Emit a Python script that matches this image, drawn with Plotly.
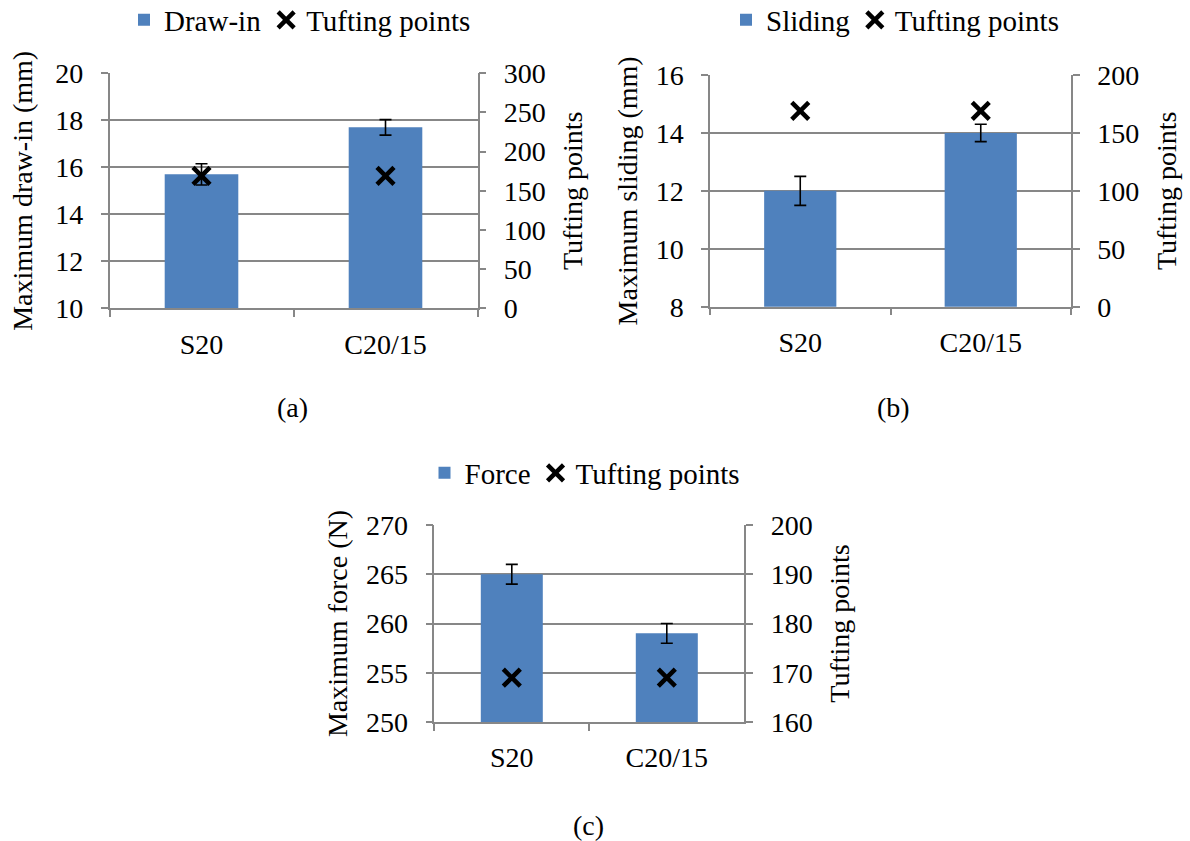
import plotly.graph_objects as go

categories = ["S20", "C20/15"]
drawin = [15.7, 17.7]
drawin_err = [0.45, 0.33]
sliding = [12.0, 14.0]
sliding_err = [0.5, 0.3]
force = [265, 259]
force_err = [1, 1]
tufting = [169, 169]

W, H = 1190, 841
BLUE = "#4F81BD"
GRID = "#878787"
FONT = "Liberation Serif"
FS = 28

def px_x(a, b):
    return [a / W, b / W]

def px_y(top, bottom):
    return [1 - bottom / H, 1 - top / H]

fig = go.Figure()

panels = [
    dict(x="x", y="y", y2="y2", vals=drawin, err=drawin_err, name="Draw-in", legend="legend",
         xdom=px_x(109.5, 477.5), ydom=px_y(73.3, 308.3), lrange=[10, 20], ldt=2, rrange=[0, 300], rdt=50,
         ltitle="Maximum draw-in (mm)", lstand=14),
    dict(x="x2", y="y3", y2="y4", vals=sliding, err=sliding_err, name="Sliding", legend="legend2",
         xdom=px_x(710, 1071), ydom=px_y(75, 306.7), lrange=[8, 16], ldt=2, rrange=[0, 200], rdt=50,
         ltitle="Maximum sliding (mm)", lstand=10),
    dict(x="x3", y="y5", y2="y6", vals=force, err=force_err, name="Force", legend="legend3",
         xdom=px_x(434.3, 744.3), ydom=px_y(525, 722), lrange=[250, 270], ldt=5, rrange=[160, 200], rdt=10,
         ltitle="Maximum force (N)", lstand=10),
]

for i, p in enumerate(panels):
    fig.add_trace(go.Bar(
        x=categories, y=p["vals"], name=p["name"], xaxis=p["x"], yaxis=p["y"],
        marker=dict(color=BLUE, line=dict(width=0)),
        error_y=dict(type="data", array=p["err"], visible=True, color="black", thickness=1.6, width=6),
        legend=p["legend"],
    ))
    fig.add_trace(go.Scatter(
        x=categories, y=tufting, name="Tufting points", mode="markers", xaxis=p["x"], yaxis=p["y2"],
        marker=dict(symbol="x-thin", size=17, color="black", line=dict(width=4.5, color="black")),
        legend=p["legend"],
    ))

    xn = "xaxis" if i == 0 else f"xaxis{i+1}"
    yl = "yaxis" if p["y"] == "y" else "yaxis" + p["y"][1:]
    yr = "yaxis" + p["y2"][1:]
    fig.layout[xn] = dict(
        domain=p["xdom"], anchor=p["y"], type="category", showline=True, linecolor=GRID, linewidth=1.5,
        ticks="outside", tickson="boundaries", ticklen=7, tickcolor=GRID, tickwidth=1.5,
        showgrid=False, tickfont=dict(family=FONT, size=FS, color="black"), automargin=False,
        ticklabelstandoff=10,
    )
    fig.layout[yl] = dict(
        domain=p["ydom"], anchor=p["x"], range=p["lrange"], dtick=p["ldt"], tick0=p["lrange"][0],
        showline=True, linecolor=GRID, linewidth=1.5, ticks="outside", ticklen=7, tickcolor=GRID, tickwidth=1.5,
        showgrid=True, gridcolor=GRID, gridwidth=1.5, zeroline=False,
        tickfont=dict(family=FONT, size=FS, color="black"), automargin=False, ticklabelstandoff=12,
        title=dict(text=p["ltitle"], font=dict(family=FONT, size=FS, color="black"), standoff=p["lstand"]),
    )
    fig.layout[yr] = dict(
        overlaying=p["y"], anchor=p["x"], side="right", range=p["rrange"], dtick=p["rdt"], tick0=p["rrange"][0],
        showline=True, linecolor=GRID, linewidth=1.5, ticks="outside", ticklen=7, tickcolor=GRID, tickwidth=1.5,
        showgrid=False, zeroline=False,
        tickfont=dict(family=FONT, size=FS, color="black"), automargin=False, ticklabelstandoff=12,
        title=dict(text="Tufting points", font=dict(family=FONT, size=FS, color="black"), standoff=18),
    )

legend_pos = {"legend": (300, 20), "legend2": (895, 20), "legend3": (585, 473)}
for k, (cx, cy) in legend_pos.items():
    fig.layout[k] = dict(
        orientation="h", x=cx / W, y=1 - cy / H, xanchor="center", yanchor="middle",
        font=dict(family=FONT, size=29, color="black"), bgcolor="rgba(0,0,0,0)", itemwidth=30,
        traceorder="normal",
    )

for text, cx, cy in [("(a)", 292, 408), ("(b)", 893, 408), ("(c)", 588, 825)]:
    fig.add_annotation(text=text, x=cx / W, y=1 - cy / H, xref="paper", yref="paper",
                       showarrow=False, xanchor="center", yanchor="middle",
                       font=dict(family=FONT, size=FS, color="black"))

fig.update_layout(
    width=W, height=H, margin=dict(l=0, r=0, t=0, b=0, autoexpand=False),
    paper_bgcolor="white", plot_bgcolor="white", bargap=0.6, showlegend=True,
)

fig.write_html("out.html")
